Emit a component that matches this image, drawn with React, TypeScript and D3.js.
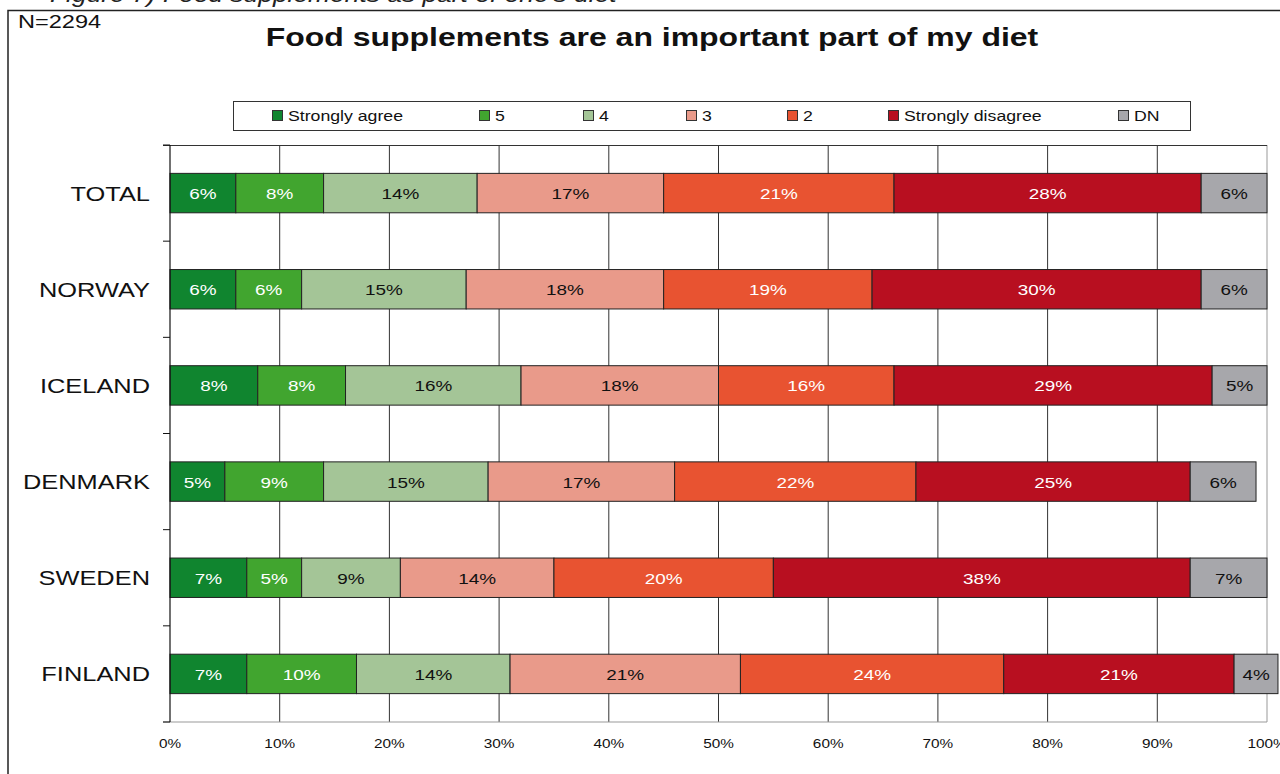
import React from "react";
import * as d3 from "d3";

const countries = ["TOTAL", "NORWAY", "ICELAND", "DENMARK", "SWEDEN", "FINLAND"];
const responses = ["Strongly agree", "5", "4", "3", "2", "Strongly disagree", "DN"];
const stronglyAgree = [6, 6, 8, 5, 7, 7];
const five = [8, 6, 8, 9, 5, 10];
const four = [14, 15, 16, 15, 9, 14];
const three = [17, 18, 18, 17, 14, 21];
const two = [21, 19, 16, 22, 20, 24];
const stronglyDisagree = [28, 30, 29, 25, 38, 21];
const dn = [6, 6, 5, 6, 7, 4];
const xTicks = [0, 10, 20, 30, 40, 50, 60, 70, 80, 90, 100];

const seriesValues = [stronglyAgree, five, four, three, two, stronglyDisagree, dn];
const colors = ["#10852F", "#41A52F", "#A4C597", "#E99A8A", "#E85331", "#B80F20", "#A7A7AB"];
const textColors = ["#fff", "#fff", "#111", "#111", "#fff", "#fff", "#111"];
const legendX = [272, 479, 583, 686, 787, 888, 1118];

const SX = 1.21;

function T(props: any) {
  const { x, y, sx = SX, children, ...rest } = props;
  return (
    <text transform={`translate(${x},${y}) scale(${sx},1)`} {...rest}>{children}</text>
  );
}

export default function App() {
  const W = 1280, H = 774;
  const x = d3.scaleLinear().domain([0, 100]).range([170, 1267]);
  const y = d3.scaleBand().domain(countries).range([145, 722]).padding(0);
  const barH = y.bandwidth() * 0.41;
  const font = "Arial, 'Liberation Sans', sans-serif";

  const rows = countries.map((c, i) => {
    const vals = seriesValues.map((s) => s[i]);
    const cum = d3.cumsum(vals);
    return { c, vals, starts: vals.map((v, k) => cum[k] - v) };
  });

  return (
    <svg width={W} height={H} style={{ position: "absolute", left: 0, top: 0 }} fontFamily={font}>
      <rect width={W} height={H} fill="#fff" />
      <T x={50} y={1.5} sx={1.2} fontSize={22} fontStyle="italic" fill="#222">Figure 7) Food supplements as part of one's diet</T>
      <path d={`M8,${H} V10.5 H${W}`} fill="none" stroke="#222" strokeWidth={1.5} />
      <T x={18} y={28} sx={1.24} fontSize={19} fill="#111">N=2294</T>
      <T x={652} y={46} sx={1.23} fontSize={26} fontWeight="bold" textAnchor="middle" fill="#111">Food supplements are an important part of my diet</T>

      <rect x={233.5} y={101.5} width={957} height={29} fill="#fff" stroke="#333" strokeWidth={1} />
      {responses.map((r, k) => (
        <g key={r}>
          <rect x={legendX[k] + 0.5} y={110.5} width={10} height={10} fill={colors[k]} stroke="#333" strokeWidth={1} />
          <T x={legendX[k] + 16} y={121} sx={1.18} fontSize={15} fill="#111">{r}</T>
        </g>
      ))}

      {xTicks.slice(1, -1).map((t) => (
        <line key={t} x1={x(t)} x2={x(t)} y1={145} y2={722} stroke="#333" strokeWidth={1} />
      ))}
      <line x1={x(100)} x2={x(100)} y1={145} y2={722} stroke="#999" strokeWidth={1} />
      <line x1={163} x2={x(100)} y1={145.5} y2={145.5} stroke="#333" strokeWidth={1} />
      <line x1={163} x2={x(100)} y1={722} y2={722} stroke="#999" strokeWidth={1} />

      {rows.map((row) => {
        const cy = (y(row.c) as number) + y.bandwidth() / 2;
        return (
          <g key={row.c}>
            {row.vals.map((v, k) => (
              <g key={k}>
                <rect x={x(row.starts[k])} y={cy - barH / 2} width={x(row.starts[k] + v) - x(row.starts[k])} height={barH}
                  fill={colors[k]} stroke="#222" strokeWidth={1} />
                <T x={(x(row.starts[k]) + x(row.starts[k] + v)) / 2} y={cy + 6} sx={1.22} fontSize={15.5} textAnchor="middle" fill={textColors[k]}>{v}%</T>
              </g>
            ))}
            <T x={150} y={cy + 7.5} fontSize={21} textAnchor="end" fill="#111">{row.c}</T>
          </g>
        );
      })}

      <line x1={170} x2={170} y1={145} y2={722} stroke="#111" strokeWidth={1.2} />
      {[...countries.map((c) => y(c) as number), 722].map((t, i) => (
        <line key={i} x1={163} x2={170} y1={t} y2={t} stroke="#111" strokeWidth={1} />
      ))}
      {xTicks.map((t) => (
        <T key={t} x={x(t)} y={748} sx={1.18} fontSize={13} textAnchor="middle" fill="#111">{t}%</T>
      ))}
    </svg>
  );
}
